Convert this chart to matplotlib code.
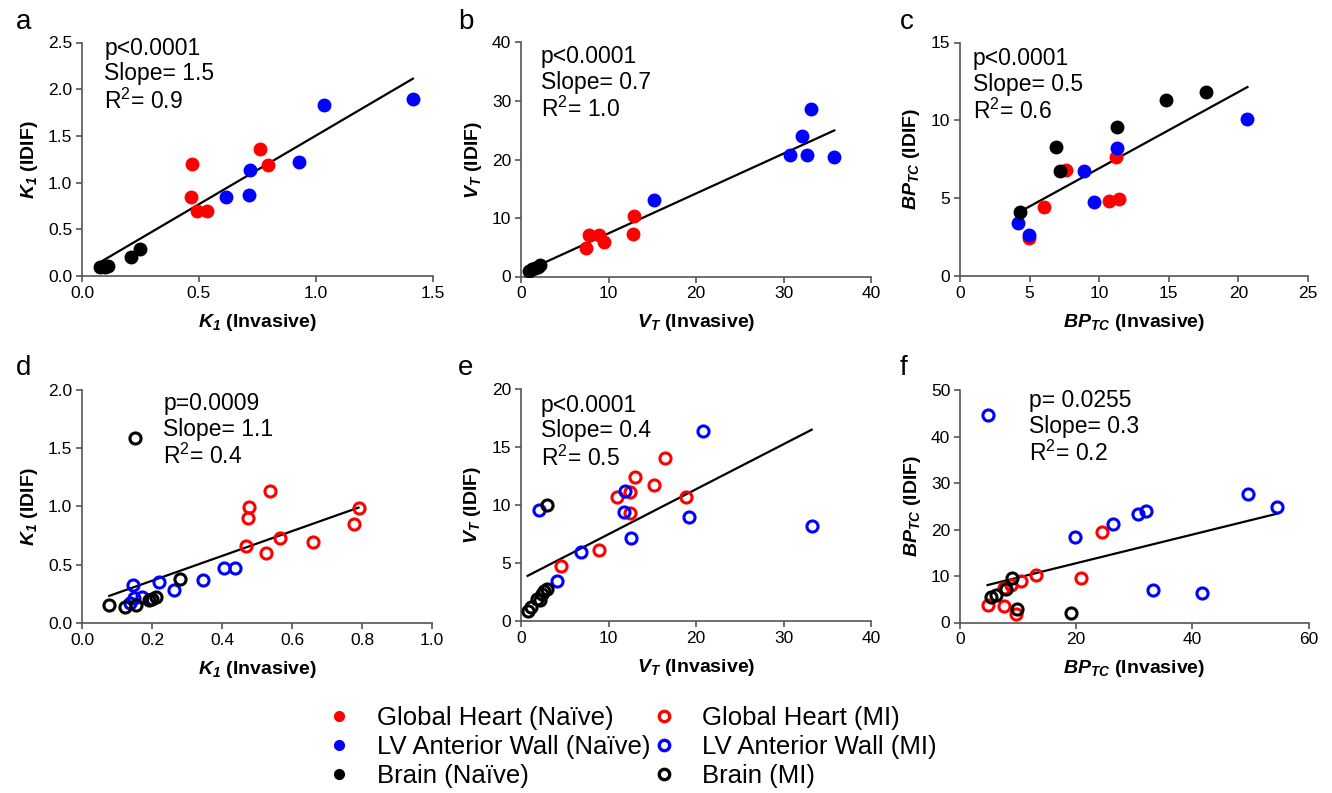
import matplotlib.pyplot as plt
from matplotlib.lines import Line2D
import numpy as np

plt.rcParams['font.family'] = ['Liberation Sans', 'DejaVu Sans']
plt.rcParams['mathtext.fontset'] = 'custom'
plt.rcParams['mathtext.rm'] = 'Liberation Sans'
plt.rcParams['mathtext.it'] = 'Liberation Sans:italic'
plt.rcParams['mathtext.bf'] = 'Liberation Sans:bold'
plt.rcParams['mathtext.bfit'] = 'Liberation Sans:bold:italic'

# ---- data ----
# a: K1, naive
a_heart_x = [0.47, 0.466, 0.49, 0.534, 0.759, 0.793]
a_heart_y = [1.20, 0.843, 0.693, 0.70, 1.364, 1.193]
a_lv_x = [0.617, 0.717, 0.714, 0.927, 1.034, 1.414]
a_lv_y = [0.843, 1.139, 0.868, 1.225, 1.829, 1.90]
a_brain_x = [0.079, 0.10, 0.111, 0.211, 0.247]
a_brain_y = [0.093, 0.10, 0.11, 0.204, 0.289]

# b: VT, naive
b_heart_x = [7.43, 7.81, 8.91, 9.52, 12.91, 12.84]
b_heart_y = [4.84, 7.07, 7.07, 5.93, 10.26, 7.29]
b_lv_x = [15.24, 30.78, 32.08, 32.69, 33.14, 35.81]
b_lv_y = [13.1, 20.74, 24.1, 20.74, 28.55, 20.5]
b_brain_x = [0.95, 1.3, 1.6, 1.9, 2.2]
b_brain_y = [1.0, 1.2, 1.4, 1.7, 2.0]

# c: BPTC, naive
c_heart_x = [4.99, 6.07, 7.6, 10.7, 11.41, 11.22]
c_heart_y = [2.42, 4.41, 6.81, 4.8, 4.93, 7.67]
c_lv_x = [4.17, 4.96, 8.94, 9.64, 11.27, 20.65]
c_lv_y = [3.39, 2.66, 6.73, 4.74, 8.21, 10.07]
c_brain_x = [4.32, 6.91, 7.15, 11.3, 14.82, 17.67]
c_brain_y = [4.11, 8.31, 6.77, 9.6, 11.31, 11.81]

# d: K1, MI
d_heart_x = [0.468, 0.477, 0.475, 0.536, 0.526, 0.567, 0.659, 0.777, 0.79]
d_heart_y = [0.66, 0.997, 0.897, 1.137, 0.603, 0.729, 0.694, 0.849, 0.986]
d_lv_x = [0.145, 0.138, 0.148, 0.17, 0.219, 0.264, 0.346, 0.407, 0.438]
d_lv_y = [0.329, 0.169, 0.211, 0.226, 0.354, 0.286, 0.366, 0.469, 0.469]
d_brain_x = [0.078, 0.124, 0.155, 0.19, 0.20, 0.21, 0.281, 0.15]
d_brain_y = [0.157, 0.134, 0.157, 0.197, 0.21, 0.226, 0.377, 1.589]

# e: VT, MI
e_heart_x = [4.57, 8.95, 10.93, 12.46, 12.46, 12.99, 15.24, 16.5, 18.82]
e_heart_y = [4.76, 6.08, 10.67, 11.16, 9.35, 12.45, 11.76, 14.06, 10.67]
e_lv_x = [2.06, 4.08, 6.9, 11.89, 11.81, 12.53, 19.24, 20.76, 33.22]
e_lv_y = [9.53, 3.44, 5.97, 11.19, 9.41, 7.17, 8.95, 16.36, 8.15]
e_brain_x = [0.76, 1.14, 1.79, 2.17, 2.36, 2.67, 2.93, 2.93]
e_brain_y = [0.86, 1.2, 1.89, 1.78, 2.3, 2.58, 2.78, 10.04]

# f: BPTC, MI
f_heart_x = [4.74, 7.54, 9.6, 7.54, 8.74, 10.57, 13.03, 20.86, 24.4]
f_heart_y = [3.72, 3.58, 1.86, 7.45, 8.09, 9.03, 10.17, 9.6, 19.48]
f_lv_x = [4.86, 19.77, 26.4, 30.69, 32.06, 33.3, 41.7, 49.5, 54.57]
f_lv_y = [44.56, 18.48, 21.2, 23.35, 23.93, 7.02, 6.45, 27.72, 24.93]
f_brain_x = [5.26, 6.17, 7.89, 9.03, 9.89, 19.03]
f_brain_y = [5.59, 5.95, 7.16, 9.6, 2.87, 2.15]

# regression lines (slope, intercept) as drawn
fit_slope = [1.47, 0.682, 0.49, 1.064, 0.388, 0.308]
fit_intercept = [0.034, 0.55, 2.02, 0.15, 3.6, 6.59]

stats = [("p<0.0001", "1.5", "0.9"), ("p<0.0001", "0.7", "1.0"), ("p<0.0001", "0.5", "0.6"),
         ("p=0.0009", "1.1", "0.4"), ("p<0.0001", "0.4", "0.5"), ("p= 0.0255", "0.3", "0.2")]

panel_letters = ["a", "b", "c", "d", "e", "f"]
k1 = r"$\mathbfit{K_1}$"
vt = r"$\mathbfit{V_T}$"
bp = r"$\mathbfit{BP_{TC}}$"
x_labels = [k1 + " (Invasive)", vt + " (Invasive)", bp + " (Invasive)"] * 2
y_labels = [k1 + " (IDIF)", vt + " (IDIF)", bp + " (IDIF)"] * 2

x_ticks = [[0.0, 0.5, 1.0, 1.5], [0, 10, 20, 30, 40], [0, 5, 10, 15, 20, 25],
           [0.0, 0.2, 0.4, 0.6, 0.8, 1.0], [0, 10, 20, 30, 40], [0, 20, 40, 60]]
y_ticks = [[0.0, 0.5, 1.0, 1.5, 2.0, 2.5], [0, 10, 20, 30, 40], [0, 5, 10, 15],
           [0.0, 0.5, 1.0, 1.5, 2.0], [0, 5, 10, 15, 20], [0, 10, 20, 30, 40, 50]]
x_fmt = ["{:.1f}", "{:.0f}", "{:.0f}", "{:.1f}", "{:.0f}", "{:.0f}"]
y_fmt = ["{:.1f}", "{:.0f}", "{:.0f}", "{:.1f}", "{:.0f}", "{:.0f}"]

panels = [
    (a_heart_x, a_heart_y, a_lv_x, a_lv_y, a_brain_x, a_brain_y),
    (b_heart_x, b_heart_y, b_lv_x, b_lv_y, b_brain_x, b_brain_y),
    (c_heart_x, c_heart_y, c_lv_x, c_lv_y, c_brain_x, c_brain_y),
    (d_heart_x, d_heart_y, d_lv_x, d_lv_y, d_brain_x, d_brain_y),
    (e_heart_x, e_heart_y, e_lv_x, e_lv_y, e_brain_x, e_brain_y),
    (f_heart_x, f_heart_y, f_lv_x, f_lv_y, f_brain_x, f_brain_y),
]

# axes rectangles in pixels (left, top, right, bottom)
W, H = 1332, 793
rects = [(82, 42.5, 433, 276), (521, 42.5, 871, 276.5), (960, 42.5, 1308, 276),
         (82, 390, 432, 623), (521, 389, 871, 621), (960, 390, 1308.5, 622.5)]
text_pos = [(0.063, 1.025), (0.056, 0.99), (0.037, 0.98),
            (0.232, 0.99), (0.056, 0.98), (0.198, 1.005)]
letter_pos = [(16, 22), (458, 22), (900, 22), (16, 368), (458, 368), (900, 368)]

colors = ["#ff0000", "#0000ff", "#000000"]

fig = plt.figure(figsize=(13.32, 7.93), dpi=100)

for i in range(6):
    l, t, r, b = rects[i]
    ax = fig.add_axes([l / W, 1 - b / H, (r - l) / W, (b - t) / H])
    data = panels[i]
    open_marker = i >= 3
    for g in range(3):
        xs, ys = data[2 * g], data[2 * g + 1]
        if open_marker:
            ax.plot(xs, ys, "o", mfc="none", mec=colors[g], ms=8, mew=2.2, ls="none", zorder=3)
        else:
            ax.plot(xs, ys, "o", color=colors[g], ms=9, ls="none", zorder=3)
    all_x = np.concatenate([np.array(data[0]), np.array(data[2]), np.array(data[4])])
    xl = np.array([all_x.min(), all_x.max()])
    ax.plot(xl, fit_slope[i] * xl + fit_intercept[i], color="black", lw=1.6, zorder=2)

    ax.set_xlim(x_ticks[i][0], x_ticks[i][-1])
    ax.set_ylim(y_ticks[i][0], y_ticks[i][-1])
    ax.set_xticks(x_ticks[i])
    ax.set_yticks(y_ticks[i])
    ax.set_xticklabels([x_fmt[i].format(v) for v in x_ticks[i]])
    ax.set_yticklabels([y_fmt[i].format(v) for v in y_ticks[i]])
    for s in ["top", "right"]:
        ax.spines[s].set_visible(False)
    for s in ["left", "bottom"]:
        ax.spines[s].set_color("#555555")
        ax.spines[s].set_linewidth(1.2)
    ax.tick_params(direction="out", length=4, width=1.2, color="#555555", labelsize=12.5, pad=3)
    ax.set_xlabel(x_labels[i], fontsize=14, fontweight="bold", labelpad=8)
    ax.set_ylabel(y_labels[i], fontsize=14, fontweight="bold", labelpad=6)

    p, sl, r2 = stats[i]
    ax.text(text_pos[i][0], text_pos[i][1], p + "\nSlope= " + sl + "\nR$^2$= " + r2,
            transform=ax.transAxes, ha="left", va="top", fontsize=16.5, linespacing=1.15)

    fig.text(letter_pos[i][0] / W, 1 - letter_pos[i][1] / H, panel_letters[i],
             fontsize=20, ha="left", va="center")

labels = ["Global Heart (Naïve)", "LV Anterior Wall (Naïve)", "Brain (Naïve)",
          "Global Heart (MI)", "LV Anterior Wall (MI)", "Brain (MI)"]
handles = []
for g in range(3):
    handles.append(Line2D([], [], marker="o", ls="none", color=colors[g], ms=7))
for g in range(3):
    handles.append(Line2D([], [], marker="o", ls="none", mfc="none", mec=colors[g], ms=7.5, mew=2.4))
fig.legend(handles, labels, ncol=2, loc="center", bbox_to_anchor=(0.474, 0.058),
           frameon=False, fontsize=18.5, handlelength=1.0, handletextpad=1.0,
           columnspacing=0.0, labelspacing=0.2)

fig.savefig("out.png", dpi=100)
